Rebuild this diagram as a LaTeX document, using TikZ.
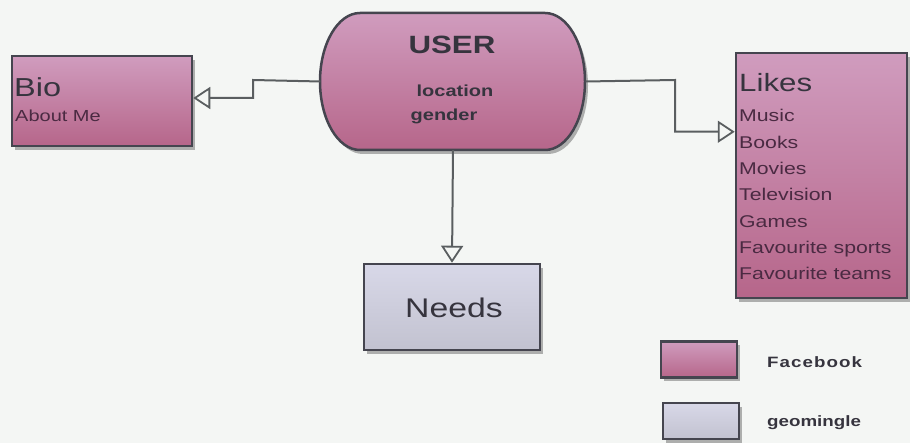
\documentclass[tikz,border=0pt]{standalone}
\usepackage{fontspec}
\setmainfont{Liberation Sans}[FakeStretch=1.25]
\usetikzlibrary{arrows.meta,shadows}
\definecolor{bg}{HTML}{F4F6F4}
\definecolor{edge}{HTML}{45454F}
\definecolor{wire}{HTML}{5A5E60}
\definecolor{pinktop}{HTML}{D09CBE}
\definecolor{pinkbot}{HTML}{B6668A}
\definecolor{lavtop}{HTML}{D8D8E8}
\definecolor{lavbot}{HTML}{C2C2D0}
\definecolor{ink}{HTML}{36343E}
\definecolor{plumink}{HTML}{4A2A42}
\tikzset{
  x=1pt, y=-1pt,
  shade/.style={drop shadow={shadow xshift=3pt, shadow yshift=-4pt, fill=black!55, opacity=.55}},
  fbfill/.style={top color=pinktop, bottom color=pinkbot},
  geofill/.style={top color=lavtop, bottom color=lavbot},
  boxline/.style={draw=edge, line width=2.5pt},
  conn/.style={draw=wire, line width=2pt,
    -{Triangle[open, length=17pt, width=22pt, line width=1.8pt]}},
  txt/.style={inner sep=0pt, text=ink},
  fs/.style={font=\fontsize{#1}{#1}\selectfont},
}
\begin{document}
\begin{tikzpicture}
\fill[bg] (0,0) rectangle (910,443);
\useasboundingbox (0,0) rectangle (910,443);

% facebook boxes
\node[boxline, fbfill, shade, minimum width=180pt, minimum height=90pt, inner sep=0pt] (bio) at (102,101) {};
\node[boxline, fbfill, shade, minimum width=171pt, minimum height=245pt, inner sep=0pt] (likes) at (821.5,175.5) {};

% user: stadium with elliptical ends
\node[minimum width=265pt, minimum height=137pt, inner sep=0pt] (user) at (453,81.5) {};
\path[boxline, fbfill, shade] (360,13) -- (545,13) arc (90:-90:40pt and 68.5pt)
  -- (360,150) arc (270:90:40pt and 68.5pt) -- cycle;

% geomingle box
\node[boxline, geofill, shade, minimum width=176pt, minimum height=86pt, inner sep=0pt] (needs) at (452,307) {};

% texts
\node[txt, font=\bfseries\fontsize{25}{25}\selectfont] (usert) at (452,45) {USER};
\node[txt, font=\bfseries\fontsize{16}{16}\selectfont] (loc) at (455,91) {location};
\node[txt, font=\bfseries\fontsize{16}{16}\selectfont] (gen) at (444,116) {gender};

\node[txt, fs=26, anchor=base west] (biot) at (14,97) {Bio};
\node[txt, fs=16, anchor=base west, text=plumink] (about) at (15,122) {About Me};

\node[txt, fs=25, anchor=base west] (likest) at (739,92) {Likes};
\foreach \t [count=\i from 0] in {Music,Books,Movies,Television,Games,Favourite sports,Favourite teams}
  \node[txt, fs=17, anchor=base west, text=plumink] (lk\i) at (739,122+26.3*\i) {\t};

\node[txt, fs=27] (needst) at (454,308) {Needs};

% connectors
\draw[conn] (user.west) -- (253,80) |- ([yshift=3pt]bio.east);
\draw[conn] (user.east) -- (675,80) |- ([yshift=-80pt]likes.north west);
\draw[conn] (user.south) -- (needs.north);

% legend
\node[boxline, fbfill, shade, minimum width=76pt, minimum height=36pt, inner sep=0pt] (legfb) at (699,359.5) {};
\node[txt, anchor=base west, font=\bfseries\fontsize{15}{15}\selectfont\addfontfeatures{LetterSpace=7}] (legfbt) at (767,368) {Facebook};
\node[boxline, geofill, shade, minimum width=76pt, minimum height=36pt, inner sep=0pt] (leggeo) at (701,421) {};
\node[txt, anchor=base west, font=\bfseries\fontsize{15}{15}\selectfont] (leggeot) at (767,426) {geomingle};
\end{tikzpicture}
\end{document}
